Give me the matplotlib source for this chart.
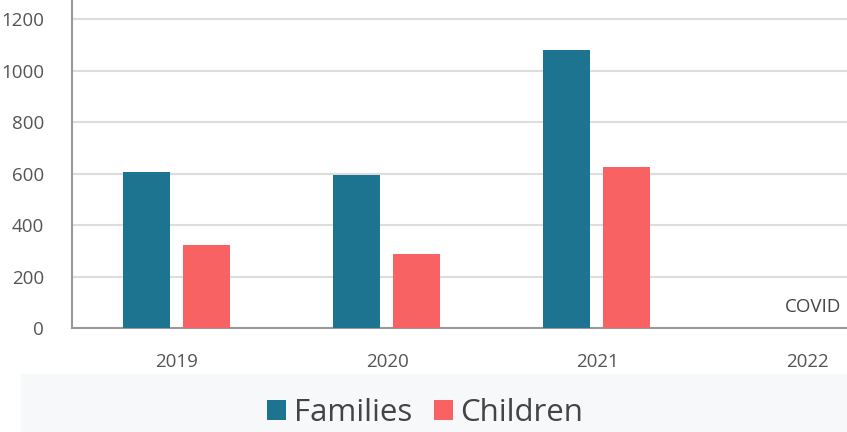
import matplotlib.pyplot as plt
import numpy as np
from matplotlib.patches import Rectangle

years = ['2019', '2020', '2021', '2022']
families = [606, 594, 1080, 0]
children = [322, 287, 625, 0]
yticks = [0, 200, 400, 600, 800, 1000, 1200]

plt.rcParams['font.family'] = ['Open Sans', 'DejaVu Sans']

fig = plt.figure(figsize=(8.47, 4.32), dpi=100)
# faint backdrop behind the legend area
fig.patches.append(Rectangle((0.025, 0), 0.975, 0.135, transform=fig.transFigure,
                             color='#f6f8fa', zorder=0))

ax = fig.add_axes([72/847, 1 - 328/432, 1 - 72/847, 328/432])
ax.set_facecolor('white')

x = np.arange(len(years))
w = 0.224
ax.bar(x[:3] - 0.145, families[:3], w, color='#1d7490', label='Families', zorder=3)
ax.bar(x[:3] + 0.14, children[:3], w, color='#f86262', label='Children', zorder=3)

ax.set_xlim(-0.5, 3.19)
ax.set_ylim(0, 1274)
ax.set_yticks(yticks)
ax.set_xticks(x)
ax.set_xticklabels(years)
ax.yaxis.grid(True, color='#dddddd', linewidth=1.5, zorder=0)
ax.tick_params(length=0, labelsize=13.5, colors='#555555')
ax.tick_params(axis='x', pad=18)
ax.tick_params(axis='y', pad=20)

for s in ['top', 'right']:
    ax.spines[s].set_visible(False)
for s in ['left', 'bottom']:
    ax.spines[s].set_color('#999999')
    ax.spines[s].set_linewidth(1.5)

ax.text(2.895, 80, 'COVID', fontsize=13.5, color='#444444', va='center', ha='left')

fig.legend(loc='center', bbox_to_anchor=(0.502, 0.044), ncol=2, frameon=False,
           fontsize=22.5, handlelength=0.6, handleheight=0.6, handletextpad=0.25,
           columnspacing=0.7, labelcolor='#444444')

fig.savefig('out.png', dpi=100)
